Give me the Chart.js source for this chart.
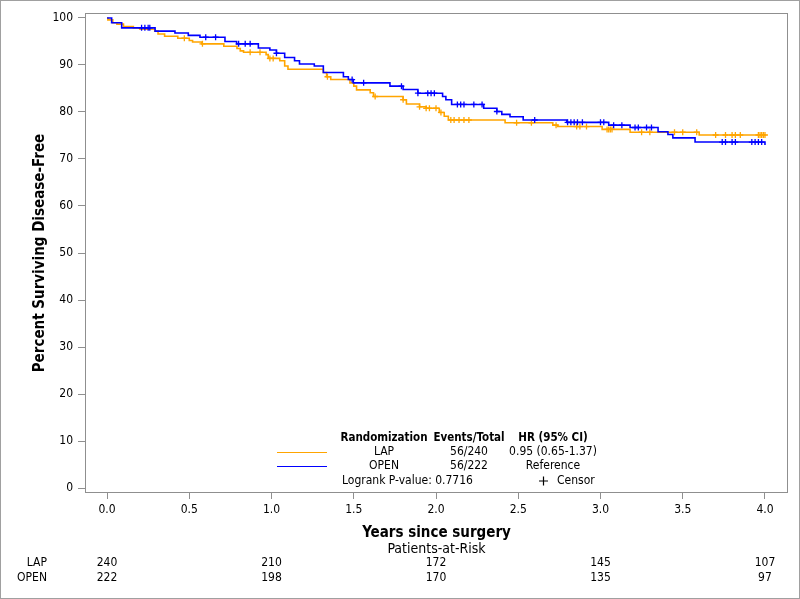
<!DOCTYPE html>
<html>
<head>
<meta charset="utf-8">
<title>Disease-free survival by randomization</title>
<script src="https://cdn.jsdelivr.net/npm/chart.js@4.4.0/dist/chart.umd.min.js"></script>
<style>
  html, body { margin: 0; padding: 0; background: #fff; }
  #wrap { width: 800px; height: 599px; position: relative; }
</style>
</head>
<body>
<div id="wrap"><canvas id="km"></canvas></div>
<script>
/* Kaplan-Meier plot: disease-free survival, LAP vs OPEN
   - step curves from the KM tables below
   - censor marks looked up on the curves
   - legend block + patients-at-risk table drawn by a small plugin */

const FONT = '"DejaVu Sans Condensed", "DejaVu Sans", sans-serif';
const LAP_COLOR = "#FFA500";
const OPEN_COLOR = "#0000FF";
const FRAME = "#8f8f8f";

// KM steps: time in years, % disease-free from that time on
const lapTimes = [0, 0.005, 0.035, 0.06, 0.10, 0.16, 0.20, 0.29, 0.31, 0.35, 0.43, 0.50, 0.52, 0.575,
  0.71, 0.79, 0.81, 0.83, 0.967, 0.98, 1.05, 1.08, 1.10, 1.315, 1.335, 1.36, 1.477, 1.50, 1.517,
  1.60, 1.62, 1.80, 1.82, 1.90, 1.94, 2.02, 2.05, 2.075, 2.42, 2.71, 2.74, 3.01, 3.18, 3.60, 4.0];
const lapSurv = [100, 99.6, 99.0, 98.7, 98.2, 97.9, 97.6, 97.2, 96.6, 96.1, 95.7, 95.2, 94.9, 94.5,
  94.0, 93.5, 93.0, 92.7, 92.2, 91.4, 90.9, 89.8, 89.1, 88.4, 87.5, 86.9, 86.2, 85.5, 84.7,
  84.1, 83.3, 82.6, 81.7, 81.1, 80.8, 79.9, 79.1, 78.3, 77.7, 77.2, 76.9, 76.3, 75.7, 75.1, 75.1];

const openTimes = [0, 0.028, 0.089, 0.292, 0.413, 0.494, 0.565, 0.717, 0.788, 0.92, 0.99, 1.03, 1.08,
  1.14, 1.17, 1.26, 1.315, 1.437, 1.467, 1.497, 1.72, 1.80, 1.89, 2.04, 2.06, 2.095, 2.29, 2.37,
  2.40, 2.45, 2.53, 2.795, 3.05, 3.18, 3.35, 3.41, 3.44, 3.575, 4.0];
const openSurv = [100, 99.0, 97.9, 97.2, 96.8, 96.3, 95.9, 95.0, 94.5, 93.6, 93.2, 92.5, 91.6,
  90.9, 90.2, 89.8, 88.4, 87.5, 86.9, 86.2, 85.5, 84.8, 84.0, 83.3, 82.6, 81.6, 80.8, 80.1,
  79.5, 79.0, 78.3, 77.8, 77.2, 76.7, 75.8, 75.2, 74.5, 73.6, 73.0];

// censored observations (years)
const lapCensor = [0.47, 0.58, 0.87, 0.93, 0.99, 1.01, 1.34, 1.63, 1.80, 1.90, 1.94, 1.96, 2.00,
  2.03, 2.09, 2.11, 2.14, 2.17, 2.20, 2.49, 2.58, 2.73, 2.855, 2.875, 2.915, 3.04, 3.05, 3.06,
  3.07, 3.25, 3.30, 3.45, 3.50, 3.585, 3.70, 3.76, 3.80, 3.82, 3.85, 3.96, 3.97, 3.98, 3.99, 4.0];
const openCensor = [0.21, 0.23, 0.25, 0.26, 0.60, 0.66, 0.80, 0.84, 0.87, 1.03, 1.49, 1.56, 1.79,
  1.89, 1.95, 1.97, 1.99, 2.13, 2.15, 2.17, 2.23, 2.28, 2.37, 2.60, 2.80, 2.82, 2.84, 2.86, 2.89,
  3.00, 3.02, 3.08, 3.13, 3.21, 3.23, 3.28, 3.31, 3.74, 3.76, 3.80, 3.82, 3.92, 3.94, 3.96, 3.98];

const xTicks = [0, 0.5, 1, 1.5, 2, 2.5, 3, 3.5, 4];
const yTicks = [0, 10, 20, 30, 40, 50, 60, 70, 80, 90, 100];

// patients at risk
const riskTimes = [0, 1, 2, 3, 4];
const riskLap = [240, 210, 172, 145, 107];
const riskOpen = [222, 198, 170, 135, 97];

// legend block
const legendHeader = ["Randomization", "Events/Total", "HR (95% CI)"];
const groups = ["LAP", "OPEN"];
const eventsTotal = ["56/240", "56/222"];
const hazardRatio = ["0.95 (0.65-1.37)", "Reference"];
const logrankText = "Logrank P-value: 0.7716";

function survAt(times, surv, t) {
  let v = surv[0];
  for (let i = 0; i < times.length; i++) {
    if (times[i] <= t) v = surv[i];
  }
  return v;
}

function toPoints(times, surv) {
  return times.map((t, i) => ({ x: t, y: surv[i] }));
}

function censorPoints(censor, times, surv) {
  return censor.map((t) => ({ x: t, y: survAt(times, surv, t) }));
}

const decor = {
  id: "kmDecor",
  afterDraw(chart) {
    const { ctx, chartArea: a, scales } = chart;
    const xs = scales.x;
    ctx.save();

    // outer frame + plot frame
    ctx.lineWidth = 1;
    ctx.strokeStyle = "#a0a0a0";
    ctx.strokeRect(0.5, 0.5, 799, 598);
    ctx.strokeStyle = FRAME;
    ctx.strokeRect(a.left + 0.5, a.top + 0.5, a.right - a.left - 1, a.bottom - a.top - 1);

    ctx.fillStyle = "#000";
    ctx.textBaseline = "middle";

    // axis titles
    ctx.font = "bold 15px " + FONT;
    ctx.textAlign = "center";
    ctx.fillText("Years since surgery", (a.left + a.right) / 2, 533);
    ctx.save();
    ctx.translate(40, (a.top + a.bottom) / 2);
    ctx.rotate(-Math.PI / 2);
    ctx.fillText("Percent Surviving Disease-Free", 0, 0);
    ctx.restore();

    // at-risk table
    ctx.font = "14px " + FONT;
    ctx.fillText("Patients-at-Risk", (a.left + a.right) / 2, 549);
    ctx.font = "12px " + FONT;
    ctx.textAlign = "right";
    ctx.fillText("LAP", 47, 563);
    ctx.fillText("OPEN", 47, 578);
    ctx.textAlign = "center";
    riskTimes.forEach((t, i) => {
      const px = xs.getPixelForValue(t);
      ctx.fillText(String(riskLap[i]), px, 563);
      ctx.fillText(String(riskOpen[i]), px, 578);
    });

    // legend
    const cols = [384, 469, 553];
    const rowsY = [452, 466];
    ctx.font = "bold 11.5px " + FONT;
    legendHeader.forEach((h, i) => ctx.fillText(h, cols[i], 438));
    ctx.font = "12px " + FONT;
    [LAP_COLOR, OPEN_COLOR].forEach((c, i) => {
      ctx.strokeStyle = c;
      ctx.lineWidth = 1.2;
      ctx.beginPath();
      ctx.moveTo(277, rowsY[i] + 0.5);
      ctx.lineTo(327, rowsY[i] + 0.5);
      ctx.stroke();
      ctx.fillText(groups[i], cols[0], rowsY[i]);
      ctx.fillText(eventsTotal[i], cols[1], rowsY[i]);
      ctx.fillText(hazardRatio[i], cols[2], rowsY[i]);
    });
    ctx.textAlign = "left";
    ctx.fillText(logrankText, 342, 481);
    ctx.fillText("Censor", 557, 481);
    ctx.strokeStyle = "#000";
    ctx.lineWidth = 1.2;
    ctx.beginPath();
    ctx.moveTo(539, 481); ctx.lineTo(548, 481);
    ctx.moveTo(543.5, 476.5); ctx.lineTo(543.5, 485.5);
    ctx.stroke();

    ctx.restore();
  },
};

const tickFont = { family: FONT, size: 12 };

new Chart(document.getElementById("km"), {
  type: "scatter",
  data: {
    datasets: [
      {
        label: "LAP",
        data: toPoints(lapTimes, lapSurv),
        showLine: true,
        stepped: true,
        borderColor: LAP_COLOR,
        borderWidth: 1.6,
        pointRadius: 0,
        order: 2,
      },
      {
        label: "OPEN",
        data: toPoints(openTimes, openSurv),
        showLine: true,
        stepped: true,
        borderColor: OPEN_COLOR,
        borderWidth: 1.6,
        pointRadius: 0,
        order: 1,
      },
      {
        label: "LAP censored",
        data: censorPoints(lapCensor, lapTimes, lapSurv),
        pointStyle: "cross",
        pointRadius: 3,
        borderColor: LAP_COLOR,
        borderWidth: 1.3,
        order: 2,
      },
      {
        label: "OPEN censored",
        data: censorPoints(openCensor, openTimes, openSurv),
        pointStyle: "cross",
        pointRadius: 3,
        borderColor: OPEN_COLOR,
        borderWidth: 1.3,
        order: 1,
      },
    ],
  },
  options: {
    responsive: true,
    maintainAspectRatio: false,
    devicePixelRatio: 1,
    animation: false,
    layout: { padding: { left: 0, top: 13, right: 12, bottom: 0 } },
    plugins: { legend: { display: false }, tooltip: { enabled: false } },
    scales: {
      x: {
        type: "linear",
        min: -0.134,
        max: 4.14,
        afterBuildTicks: (s) => { s.ticks = xTicks.map((v) => ({ value: v })); },
        afterFit: (s) => { s.height = 106; },
        ticks: { callback: (v) => Number(v).toFixed(1), font: tickFont, color: "#000", padding: 4, maxRotation: 0, autoSkip: false },
        grid: { drawOnChartArea: false, drawTicks: true, tickLength: 6, color: FRAME },
        border: { display: false },
      },
      y: {
        min: -1.06,
        max: 101.06,
        afterBuildTicks: (s) => { s.ticks = yTicks.map((v) => ({ value: v })); },
        afterFit: (s) => { s.width = 85; },
        ticks: { font: tickFont, color: "#000", padding: 5, autoSkip: false },
        grid: { drawOnChartArea: false, drawTicks: true, tickLength: 7, color: FRAME },
        border: { display: false },
      },
    },
  },
  plugins: [decor],
});
</script>
</body>
</html>
